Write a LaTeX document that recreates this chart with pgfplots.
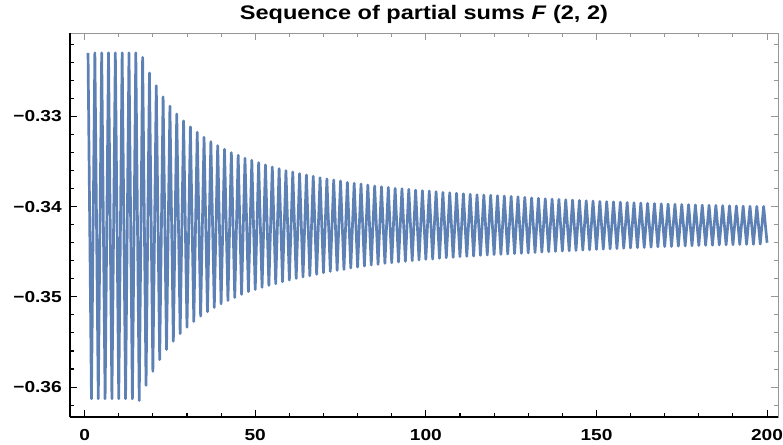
\documentclass[border=0pt]{standalone}
\usepackage{fontspec}
\setmainfont{Liberation Sans}[FakeStretch=1.2]
\usepackage{pgfplots}
\usepackage{pgfplotstable}
\pgfplotsset{compat=1.18}
\definecolor{mblue}{rgb}{0.368417,0.506779,0.709798}
\definecolor{framegray}{RGB}{150,150,150}
\pgfplotstableread{
n v
1 -0.32295
2 -0.36130
3 -0.32295
4 -0.36130
5 -0.32295
6 -0.36130
7 -0.32295
8 -0.36130
9 -0.32295
10 -0.36130
11 -0.32295
12 -0.36130
13 -0.32295
14 -0.36130
15 -0.32295
16 -0.36150
17 -0.32346
18 -0.35981
19 -0.32519
20 -0.35826
21 -0.32660
22 -0.35696
23 -0.32782
24 -0.35584
25 -0.32886
26 -0.35492
27 -0.32974
28 -0.35407
29 -0.33049
30 -0.35337
31 -0.33116
32 -0.35273
33 -0.33175
34 -0.35214
35 -0.33230
36 -0.35166
37 -0.33279
38 -0.35118
39 -0.33323
40 -0.35077
41 -0.33363
42 -0.35040
43 -0.33401
44 -0.35007
45 -0.33430
46 -0.34973
47 -0.33463
48 -0.34943
49 -0.33486
50 -0.34918
51 -0.33512
52 -0.34895
53 -0.33537
54 -0.34874
55 -0.33560
56 -0.34854
57 -0.33579
58 -0.34832
59 -0.33601
60 -0.34814
61 -0.33616
62 -0.34796
63 -0.33634
64 -0.34781
65 -0.33649
66 -0.34766
67 -0.33663
68 -0.34751
69 -0.33679
70 -0.34732
71 -0.33693
72 -0.34718
73 -0.33704
74 -0.34707
75 -0.33716
76 -0.34696
77 -0.33730
78 -0.34681
79 -0.33741
80 -0.34670
81 -0.33749
82 -0.34659
83 -0.33760
84 -0.34648
85 -0.33771
86 -0.34640
87 -0.33779
88 -0.34629
89 -0.33786
90 -0.34621
91 -0.33797
92 -0.34614
93 -0.33801
94 -0.34607
95 -0.33808
96 -0.34599
97 -0.33816
98 -0.34592
99 -0.33823
100 -0.34584
101 -0.33827
102 -0.34581
103 -0.33834
104 -0.34573
105 -0.33841
106 -0.34566
107 -0.33846
108 -0.34562
109 -0.33852
110 -0.34554
111 -0.33857
112 -0.34551
113 -0.33863
114 -0.34548
115 -0.33868
116 -0.34540
117 -0.33871
118 -0.34537
119 -0.33874
120 -0.34532
121 -0.33879
122 -0.34529
123 -0.33882
124 -0.34526
125 -0.33886
126 -0.34521
127 -0.33891
128 -0.34518
129 -0.33897
130 -0.34514
131 -0.33902
132 -0.34509
133 -0.33907
134 -0.34504
135 -0.33912
136 -0.34500
137 -0.33916
138 -0.34496
139 -0.33919
140 -0.34493
141 -0.33923
142 -0.34489
143 -0.33927
144 -0.34485
145 -0.33930
146 -0.34482
147 -0.33934
148 -0.34478
149 -0.33938
150 -0.34474
151 -0.33941
152 -0.34471
153 -0.33944
154 -0.34468
155 -0.33947
156 -0.34465
157 -0.33950
158 -0.34462
159 -0.33954
160 -0.34458
161 -0.33957
162 -0.34455
163 -0.33960
164 -0.34452
165 -0.33963
166 -0.34449
167 -0.33966
168 -0.34446
169 -0.33969
170 -0.34443
171 -0.33971
172 -0.34441
173 -0.33974
174 -0.34438
175 -0.33976
176 -0.34436
177 -0.33978
178 -0.34434
179 -0.33981
180 -0.34431
181 -0.33983
182 -0.34429
183 -0.33985
184 -0.34427
185 -0.33987
186 -0.34425
187 -0.33989
188 -0.34423
189 -0.33990
190 -0.34422
191 -0.33992
192 -0.34420
193 -0.33994
194 -0.34418
195 -0.33995
196 -0.34417
197 -0.33997
198 -0.34415
199 -0.33998
200 -0.34400
}\sums

\pgfplotsset{
  common/.style={
    width=708.5bp, height=384bp, scale only axis,
    xmin=-4.3, xmax=203.2, ymin=-0.36332, ymax=-0.32078,
    xtick={0,50,100,150,200},
    minor xtick={10,20,30,40,60,70,80,90,110,120,130,140,160,170,180,190},
    ytick={-0.36,-0.35,-0.34,-0.33},
    minor ytick={-0.362,-0.358,-0.356,-0.354,-0.352,-0.348,-0.346,-0.344,-0.342,-0.338,-0.336,-0.334,-0.332,-0.328,-0.326,-0.324,-0.322},
    scaled y ticks=false, scaled x ticks=false,
    tick align=inside,
    major tick length=7bp, minor tick length=4bp,
  }
}

\begin{document}
\begin{tikzpicture}
% gray frame with ticks on all sides
\begin{axis}[common,
  axis line style={framegray, line width=0.9bp},
  every tick/.style={framegray, line width=0.9bp},
  xticklabels={}, yticklabels={},
]
\end{axis}
% black left/bottom axes, labels, title, data
\begin{axis}[common,
  axis x line*=bottom, axis y line*=left,
  axis line style={black, line width=1.4bp, -},
  xtick pos=left, ytick pos=left,
  every tick/.style={black, line width=1.1bp},
  xticklabels={0,50,100,150,200},
  yticklabels={−0.36,−0.35,−0.34,−0.33},
  ticklabel style={font=\fontsize{16}{18}\selectfont\bfseries},
  yticklabel style={anchor=east, inner sep=0pt, xshift=-8bp},
  xticklabel style={anchor=north, inner sep=0pt, yshift=-12bp},
  title={Sequence of partial sums \textit{F} (2, 2)},
  title style={font=\fontsize{19.7}{22}\selectfont\bfseries, at={(0.5,1)}, anchor=base, yshift=7.5bp, inner sep=0pt},
]
\addplot[color=mblue, line width=2.7bp, line join=round, mark=none] table[x=n, y=v] {\sums};
\end{axis}
\path (current axis.south west) ++(-70bp,-27.7bp) rectangle ++(783bp,445bp);
\end{tikzpicture}
\end{document}
